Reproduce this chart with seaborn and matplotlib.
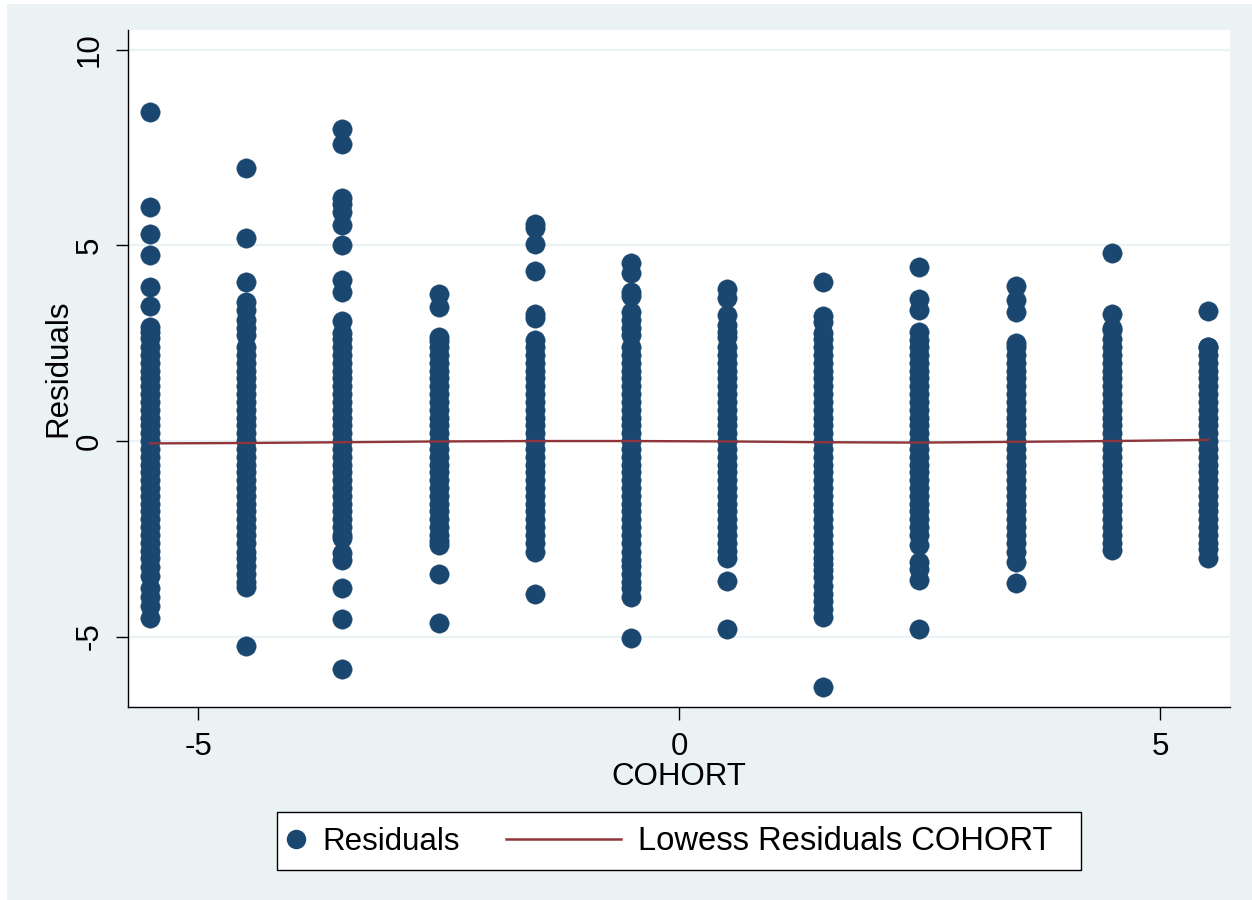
import matplotlib
matplotlib.use("Agg")
import matplotlib.pyplot as plt
from matplotlib.patches import Rectangle
from matplotlib.lines import Line2D
from matplotlib.legend_handler import HandlerLine2D
import seaborn as sns
import pandas as pd

# ---------------- data ----------------
COHORTS = [-5.5, -4.5, -3.5, -2.5, -1.5, -0.5, 0.5, 1.5, 2.5, 3.5, 4.5, 5.5]

# dense central band of residuals shared by every cohort
CORE = [-2.4, -2.2, -2.0, -1.8, -1.6, -1.4, -1.2, -1.0, -0.8, -0.6, -0.4, -0.2, 0.0,
        0.2, 0.4, 0.6, 0.8, 1.0, 1.2, 1.4, 1.6, 1.8, 2.0, 2.2, 2.4]

# residuals outside the dense band, per cohort
RES_M5_5 = [8.42, 5.99, 5.29, 4.76, 3.95, 3.45, 2.91, 2.8, 2.63,
            -2.6, -2.8, -3.0, -3.22, -3.45, -3.76, -3.98, -4.22, -4.52]
RES_M4_5 = [6.97, 5.20, 4.06, 3.55, 3.35, 3.09, 2.89, 2.7,
            -2.6, -2.83, -3.0, -3.2, -3.4, -3.6, -3.74, -5.24]
RES_M3_5 = [7.97, 7.59, 6.21, 6.05, 5.85, 5.52, 5.0, 4.13, 3.8, 3.08, 2.76, 2.6,
            -2.49, -2.85, -3.05, -3.77, -4.55, -5.84]
RES_M2_5 = [3.75, 3.43, 2.67, 2.55,
            -2.55, -2.66, -3.41, -4.64]
RES_M1_5 = [5.55, 5.45, 5.04, 4.35, 3.25, 3.15, 2.58,
            -2.6, -2.83, -3.92]
RES_M0_5 = [4.55, 4.3, 3.8, 3.7, 3.3, 3.1, 2.9, 2.7,
            -2.6, -2.84, -3.05, -3.2, -3.4, -3.6, -3.75, -4.0, -5.04]
RES_P0_5 = [3.88, 3.66, 3.22, 2.96, 2.8, 2.66,
            -2.6, -2.8, -3.0, -3.58, -4.81]
RES_P1_5 = [4.06, 3.2, 3.05, 2.76, 2.6,
            -2.6, -2.8, -3.0, -3.15, -3.3, -3.48, -3.7, -3.9, -4.1, -4.3, -4.5, -6.29]
RES_P2_5 = [4.46, 3.62, 3.35, 2.79, 2.58,
            -2.66, -3.1, -3.26, -3.56, -4.81]
RES_P3_5 = [3.96, 3.6, 3.31, 2.5,
            -2.6, -2.83, -3.09, -3.62]
RES_P4_5 = [4.81, 3.25, 2.9, 2.83, 2.6,
            -2.6, -2.79]
RES_P5_5 = [3.33, 2.41,
            -2.6, -2.75, -3.0]

LOWESS = [-0.06, -0.05, -0.03, -0.01, 0.0, 0.0, -0.01, -0.03, -0.04, -0.02, 0.0, 0.03]

X_TICKS = [-5, 0, 5]
Y_TICKS = [-5, 0, 5, 10]

TAILS = [RES_M5_5, RES_M4_5, RES_M3_5, RES_M2_5, RES_M1_5, RES_M0_5,
         RES_P0_5, RES_P1_5, RES_P2_5, RES_P3_5, RES_P4_5, RES_P5_5]

rows = []
for c, tail in zip(COHORTS, TAILS):
    for v in CORE + tail:
        rows.append((c, v))
df = pd.DataFrame(rows, columns=["COHORT", "Residuals"])
df_low = pd.DataFrame({"COHORT": COHORTS, "Lowess": LOWESS})

# ---------------- style ----------------
BG = "#EAF2F3"
NAVY = "#1A476F"
MAROON = "#90353B"
W, H = 1252, 900
FS = 22.5

plt.rcParams["font.family"] = ["Liberation Sans", "DejaVu Sans"]
plt.rcParams["axes.unicode_minus"] = False

fig = plt.figure(figsize=(W / 100, H / 100), dpi=100, facecolor="white")
fig.patches.append(Rectangle((7 / W, 0), 1, 1 - 4 / H, transform=fig.transFigure,
                             facecolor=BG, edgecolor="none", zorder=-10))
ax = fig.add_axes([128 / W, 193 / H, (1230 - 128) / W, (870 - 193) / H])
ax.set_facecolor("white")

sns.scatterplot(data=df, x="COHORT", y="Residuals", ax=ax, color=NAVY, s=195,
                edgecolor=NAVY, linewidth=0.3, zorder=3, legend=False)
sns.lineplot(data=df_low, x="COHORT", y="Lowess", ax=ax, color=MAROON, lw=1.7,
             zorder=4, legend=False)

ax.set_xlim(-5.728, 5.728)
ax.set_ylim(-6.80, 10.51)
ax.set_xticks(X_TICKS)
ax.set_yticks(Y_TICKS)
ax.set_xticklabels([str(t) for t in X_TICKS])
ax.set_yticklabels([str(t) for t in Y_TICKS], rotation=90, va="center")

ax.grid(False)
for t in Y_TICKS:
    ax.axhline(t, color=BG, lw=1.6, zorder=1)

for s in ["top", "right"]:
    ax.spines[s].set_visible(False)
for s in ["left", "bottom"]:
    ax.spines[s].set_color("black")
    ax.spines[s].set_linewidth(1.0)

ax.tick_params(axis="both", direction="out", length=9, width=1.0, color="black",
               labelsize=FS, labelcolor="black")
ax.tick_params(axis="x", pad=9)
ax.tick_params(axis="y", pad=8)

ax.set_xlabel("COHORT", fontsize=FS, labelpad=0)
ax.set_ylabel("Residuals", fontsize=FS, labelpad=1)

# ---------------- legend ----------------
fs_px = FS * 100 / 72.0

class WideLine(HandlerLine2D):
    def legend_artist(self, legend, orig_handle, fontsize, handlebox):
        handlebox.width = 115.0 * 72.0 / 100.0
        return super().legend_artist(legend, orig_handle, fontsize, handlebox)

# legend frame (white box with black border)
fig.patches.append(Rectangle((277 / W, (H - 870) / H), 804 / W, 58 / H,
                             transform=fig.transFigure, facecolor="white",
                             edgecolor="black", linewidth=1.0, zorder=5))

h_pts = Line2D([], [], linestyle="none", marker="o", markersize=13,
               markerfacecolor=NAVY, markeredgecolor=NAVY)
h_low = Line2D([], [], color=MAROON, lw=1.8)
leg = fig.legend([h_pts, h_low], ["Residuals", "Lowess Residuals COHORT"],
                 loc="center left", bbox_to_anchor=(288 / W, (H - 841) / H), ncol=2,
                 fontsize=FS, frameon=False, handlelength=16 / fs_px,
                 handletextpad=18 / fs_px, columnspacing=46 / fs_px,
                 borderpad=0, borderaxespad=0, numpoints=1,
                 handler_map={h_low: WideLine()})
leg.get_texts()[1].set_fontsize(23.6)
leg.set_zorder(6)

fig.savefig("out.png", dpi=100, facecolor=fig.get_facecolor())
